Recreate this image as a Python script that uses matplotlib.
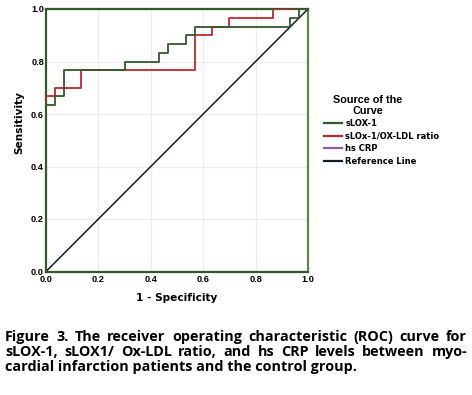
import matplotlib
matplotlib.use("Agg")
import matplotlib.pyplot as plt

# ROC curve coordinates (1 - specificity, sensitivity)
slox_fpr = [0.0, 0.0, 0.033, 0.033, 0.067, 0.067, 0.30, 0.30, 0.433, 0.433, 0.467, 0.467,
            0.533, 0.533, 0.567, 0.567, 0.933, 0.933, 0.967, 0.967, 1.0]
slox_tpr = [0.0, 0.633, 0.633, 0.667, 0.667, 0.767, 0.767, 0.80, 0.80, 0.833, 0.833, 0.867,
            0.867, 0.90, 0.90, 0.933, 0.933, 0.967, 0.967, 1.0, 1.0]

ratio_fpr = [0.0, 0.0, 0.033, 0.033, 0.133, 0.133, 0.567, 0.567, 0.633, 0.633, 0.70, 0.70,
             0.867, 0.867, 1.0]
ratio_tpr = [0.0, 0.667, 0.667, 0.70, 0.70, 0.767, 0.767, 0.90, 0.90, 0.933, 0.933, 0.967,
             0.967, 1.0, 1.0]

crp_fpr = [0.0, 0.0, 1.0]
crp_tpr = [0.0, 1.0, 1.0]

ref_line = [0.0, 1.0]

ticks = [0.0, 0.2, 0.4, 0.6, 0.8, 1.0]
tick_labels = ["0.0", "0.2", "0.4", "0.6", "0.8", "1.0"]

caption_lines = [
    "Figure 3. The receiver operating characteristic (ROC) curve for",
    "sLOX-1, sLOX1/ Ox-LDL ratio, and hs CRP levels between myo-",
    "cardial infarction patients and the control group.",
]

W, H = 472, 395
fig = plt.figure(figsize=(W / 100, H / 100), dpi=100)
ax = fig.add_axes([46 / W, 1 - 271.5 / H, 262 / W, 262.5 / H])

green = "#2f5a2b"
red = "#c4262e"
purple = "#8e5ea8"
navy = "#151a2c"

ax.plot(crp_fpr, crp_tpr, color=purple, lw=1.3, label="hs CRP", zorder=2)
ax.plot(ref_line, ref_line, color=navy, lw=1.1, label="Reference Line", zorder=3)
ax.plot(ratio_fpr, ratio_tpr, color=red, lw=1.3, label="sLOx-1/OX-LDL ratio", zorder=4)
ax.plot(slox_fpr, slox_tpr, color=green, lw=1.3, label="sLOX-1", zorder=5)

ax.set_xlim(0, 1)
ax.set_ylim(0, 1)
ax.set_xticks(ticks)
ax.set_yticks(ticks)
ax.set_xticklabels(tick_labels)
ax.set_yticklabels(tick_labels)
ax.tick_params(length=0, labelsize=6.6)
ax.tick_params(axis="x", pad=2.5)
ax.tick_params(axis="y", pad=1.5)
for lab in ax.get_xticklabels() + ax.get_yticklabels():
    lab.set_fontfamily("Liberation Sans")
    lab.set_fontweight("bold")
ax.grid(True, color="#ececec", lw=0.8)
ax.set_axisbelow(True)
for s in ["left", "top", "bottom"]:
    ax.spines[s].set_color(green)
    ax.spines[s].set_linewidth(1.6)
ax.spines["right"].set_color("#5e8450")
ax.spines["right"].set_linewidth(1.6)

fig.text(177 / W, 1 - 298 / H, "1 - Specificity", ha="center", va="center",
         fontsize=7.6, fontweight="bold", family="DejaVu Sans")
fig.text(19 / W, 1 - 123 / H, "Sensitivity", ha="center", va="center", rotation=90,
         fontsize=7.6, fontweight="bold", family="DejaVu Sans")

# legend (title placed separately, centred like the original)
fig.text(368 / W, 1 - 105.5 / H, "Source of the\nCurve", ha="center", va="center",
         multialignment="center", fontsize=7.8, fontweight="bold",
         family="Liberation Sans", linespacing=1.15)
handles, labels = ax.get_legend_handles_labels()
order = ["sLOX-1", "sLOx-1/OX-LDL ratio", "hs CRP", "Reference Line"]
hmap = dict(zip(labels, handles))
leg = fig.legend([hmap[k] for k in order], order, loc="upper left",
                 bbox_to_anchor=(324 / W, 1 - 119 / H), frameon=False,
                 prop={"family": "DejaVu Sans", "weight": "bold", "size": 6.0},
                 handlelength=2.2, handletextpad=0.35, labelspacing=0.42,
                 borderaxespad=0, borderpad=0)
for line in leg.get_lines():
    line.set_linewidth(1.6)

# justified caption
x_left, x_right = 5, 467
last_width = 353
baselines = [341, 356, 371]
fig.canvas.draw()
renderer = fig.canvas.get_renderer()
probe = fig.text(0, 0, caption_lines[-1], fontsize=10, fontweight="bold", family="Open Sans")
cap_size = 10 * last_width / probe.get_window_extent(renderer).width
probe.remove()
cap_kw = dict(fontsize=cap_size, fontweight="bold", family="Open Sans", va="baseline")
for i, line in enumerate(caption_lines):
    yb = 1 - baselines[i] / H
    if i == len(caption_lines) - 1:
        fig.text(x_left / W, yb, line, ha="left", **cap_kw)
        continue
    words = line.split(" ")
    objs = [fig.text(0, yb, w, ha="left", **cap_kw) for w in words]
    widths = [o.get_window_extent(renderer).width for o in objs]
    gap = (x_right - x_left - sum(widths)) / (len(words) - 1)
    x = x_left
    for o, w in zip(objs, widths):
        o.set_x(x / W)
        x += w + gap

fig.savefig("out.png", dpi=100)
